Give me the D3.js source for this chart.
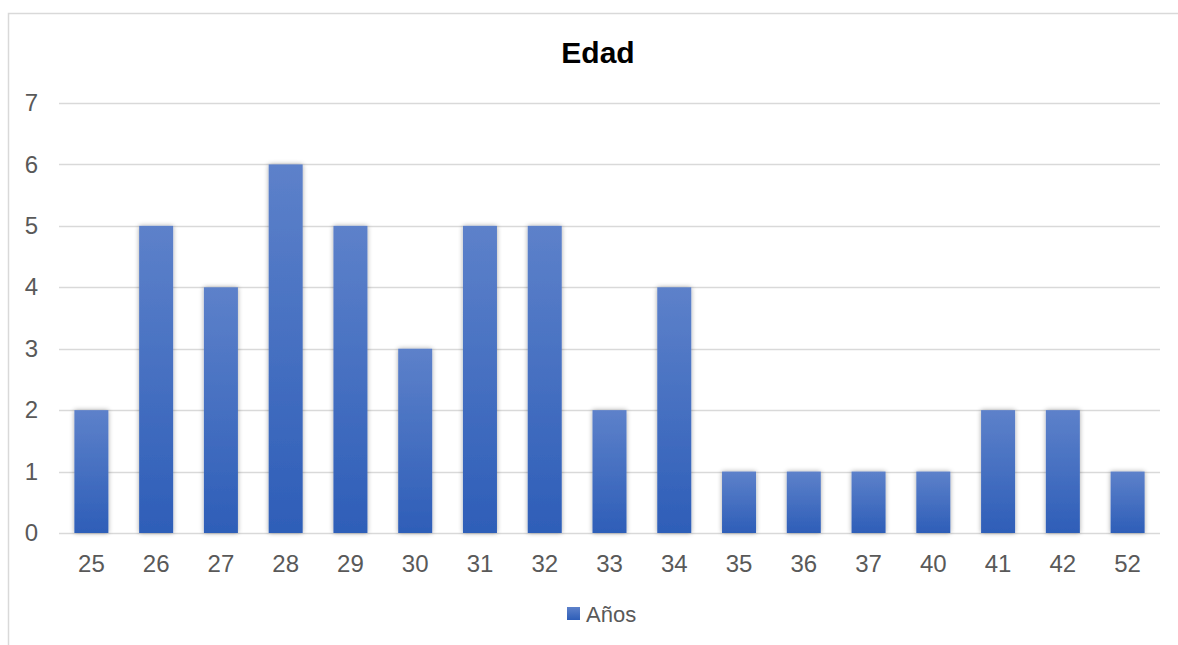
<!DOCTYPE html>
<html>
<head>
<meta charset="utf-8">
<script src="https://cdn.jsdelivr.net/npm/d3@7"></script>
<style>
  body { margin: 0; background: #fff; }
  svg { display: block; font-family: "Liberation Sans", Arial, sans-serif; }
</style>
</head>
<body>
<div id="chart"></div>
<script>
// data
var categories = ["25", "26", "27", "28", "29", "30", "31", "32", "33", "34", "35", "36", "37", "40", "41", "42", "52"];
var values = [2, 5, 4, 6, 5, 3, 5, 5, 2, 4, 1, 1, 1, 1, 2, 2, 1];
var yTicks = [0, 1, 2, 3, 4, 5, 6, 7];
var seriesName = "Años";
var title = "Edad";

var W = 1178, H = 645;
var margin = {top: 103, right: 18, bottom: 112, left: 59},
    width = W - margin.left - margin.right,
    height = H - margin.top - margin.bottom;

var svg = d3.select("#chart").append("svg")
    .attr("width", W)
    .attr("height", H);

var defs = svg.append("defs");
var grad = defs.append("linearGradient")
    .attr("id", "barGrad")
    .attr("x1", 0).attr("y1", 0).attr("x2", 0).attr("y2", 1);
grad.append("stop").attr("offset", "0%").attr("stop-color", "#5d81ca");
grad.append("stop").attr("offset", "100%").attr("stop-color", "#2e5eb8");

var shadow = defs.append("filter")
    .attr("id", "shadow")
    .attr("x", "-30%").attr("y", "-10%")
    .attr("width", "160%").attr("height", "120%");
shadow.append("feGaussianBlur").attr("in", "SourceAlpha").attr("stdDeviation", 2.5).attr("result", "b");
shadow.append("feComponentTransfer").attr("in", "b").attr("result", "s")
    .append("feFuncA").attr("type", "linear").attr("slope", 0.35);
var merge = shadow.append("feMerge");
merge.append("feMergeNode").attr("in", "s");
merge.append("feMergeNode").attr("in", "SourceGraphic");

// chart area border (bottom + right edge fall outside the view)
svg.append("rect")
    .attr("x", 8.5).attr("y", 13.5)
    .attr("width", 1180).attr("height", 660)
    .attr("fill", "#fff")
    .attr("stroke", "#d9d9d9")
    .attr("stroke-width", 1.5);

svg.append("text")
    .attr("x", 598)
    .attr("y", 63)
    .attr("text-anchor", "middle")
    .attr("font-size", 30)
    .attr("font-weight", "bold")
    .attr("fill", "#000")
    .text(title);

var g = svg.append("g")
    .attr("transform", "translate(" + margin.left + "," + margin.top + ")");

var x = d3.scaleBand()
    .domain(categories)
    .range([0, width])
    .paddingInner(0.475)
    .paddingOuter(0.2375);

var y = d3.scaleLinear()
    .domain([0, 7])
    .range([height, 0]);

// gridlines
g.append("g")
    .selectAll("line")
    .data(yTicks)
    .enter().append("line")
    .attr("x1", 0)
    .attr("x2", width)
    .attr("y1", function (d) { return Math.round(y(d)) + 0.5; })
    .attr("y2", function (d) { return Math.round(y(d)) + 0.5; })
    .attr("stroke", "#d9d9d9")
    .attr("stroke-width", 1.5);

// y labels
var yAxis = g.append("g")
    .call(d3.axisLeft(y).tickValues(yTicks).tickFormat(d3.format("d")).tickSize(0).tickPadding(21));
yAxis.select(".domain").remove();
yAxis.selectAll("text")
    .attr("font-size", 24)
    .attr("fill", "#595959")
    .attr("font-family", "Liberation Sans, Arial, sans-serif");

// bars
g.append("g")
    .selectAll("rect")
    .data(values)
    .enter().append("rect")
    .attr("x", function (d, i) { return x(categories[i]); })
    .attr("y", function (d) { return y(d); })
    .attr("width", x.bandwidth())
    .attr("height", function (d) { return height - y(d); })
    .attr("fill", "url(#barGrad)")
    .attr("filter", "url(#shadow)");

// x labels
var xAxis = g.append("g")
    .attr("transform", "translate(0," + height + ")")
    .call(d3.axisBottom(x).tickSize(0).tickPadding(22));
xAxis.select(".domain").remove();
xAxis.selectAll("text")
    .attr("font-size", 24)
    .attr("fill", "#595959")
    .attr("font-family", "Liberation Sans, Arial, sans-serif");

// legend
var legend = svg.append("g").attr("transform", "translate(567,607)");
legend.append("rect")
    .attr("width", 13).attr("height", 13)
    .attr("fill", "url(#barGrad)");
legend.append("text")
    .attr("x", 19)
    .attr("y", 15)
    .attr("font-size", 22)
    .attr("fill", "#595959")
    .text(seriesName);
</script>
</body>
</html>
